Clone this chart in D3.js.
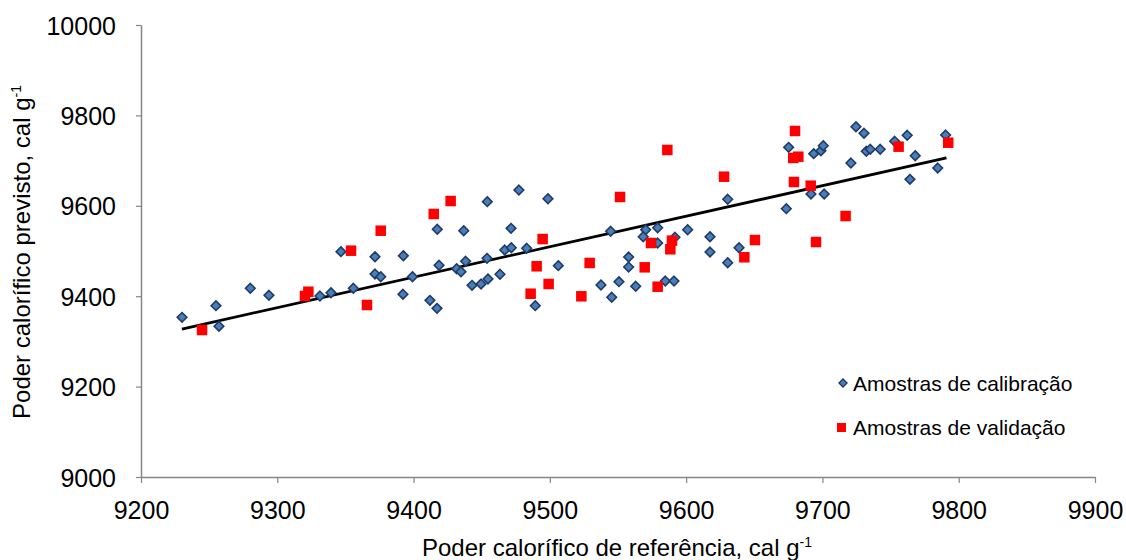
<!DOCTYPE html>
<html>
<head>
<meta charset="utf-8">
<script src="https://cdn.jsdelivr.net/npm/d3@7/dist/d3.min.js"></script>
<style>
  html, body { margin: 0; padding: 0; background: #fff; }
  svg { display: block; }
  text { font-family: "Liberation Sans", Arial, sans-serif; fill: #000; }
</style>
</head>
<body>
<svg id="chart" width="1126" height="560"></svg>
<script>
// ---- Data ----
const calibX = [9230.1,9255.0,9257.2,9280.2,9293.9,9331.3,9339.4,9346.7,9355.8,9371.7,9371.7,9375.9,9392.5,9392.2,9399.2,
  9417.4,9436.8,9454.1,9477.3,9498.6,9471.5,9418.7,9431.6,9434.8,9438.2,9453.9,9466.9,9471.7,9483.0,9463.4,9442.9,9449.5,
  9454.6,9412.0,9417.2,9489.3,9506.2,9537.5,9545.4,9550.7,9557.8,9557.8,9563.0,9544.6,9584.7,9591.1,9570.3,9579.1,9568.5,
  9579.1,9591.8,9601.1,9617.5,9617.5,9638.8,9630.5,9630.5,9675.2,9693.6,9698.9,9700.6,9691.6,9701.3,9673.5,9724.6,9730.5,
  9732.2,9735.1,9742.4,9720.9,9753.0,9762.2,9768.1,9764.2,9784.6,9790.4];
const calibY = [9353.3,9379.0,9333.4,9417.5,9402.0,9400.4,9407.7,9498.5,9417.5,9487.4,9449.1,9443.1,9489.6,9404.2,9443.1,
  9548.0,9544.9,9609.1,9634.9,9615.7,9550.2,9468.4,9460.8,9454.2,9477.2,9483.8,9502.2,9507.3,9506.0,9448.5,9424.1,9427.0,
  9438.1,9390.9,9373.2,9379.0,9467.5,9424.8,9397.6,9432.1,9486.7,9464.6,9421.9,9543.6,9433.6,9433.6,9547.1,9551.5,9531.6,
  9517.7,9530.3,9547.1,9531.6,9497.8,9507.3,9474.1,9614.4,9729.4,9715.3,9721.9,9732.9,9626.1,9626.1,9593.6,9775.0,9760.4,
  9720.6,9725.0,9725.0,9694.7,9742.7,9756.0,9710.8,9658.6,9683.6,9756.6];
const validX = [9244.8,9320.3,9322.8,9354.1,9375.9,9365.8,9414.8,9427.2,9551.5,9586.2,9494.7,9490.3,9499.1,9485.9,9529.2,
  9523.1,9569.6,9579.1,9574.2,9589.6,9588.4,9627.8,9650.5,9642.7,9679.9,9678.6,9682.3,9679.1,9691.4,9717.0,9695.3,9755.9,9792.3];
const validY = [9325.2,9400.4,9409.9,9500.7,9544.9,9380.5,9581.9,9610.6,9619.5,9723.5,9526.5,9466.2,9427.0,9405.5,9473.5,
  9399.8,9463.9,9421.0,9517.7,9522.8,9503.8,9664.4,9524.3,9486.1,9765.5,9705.8,9708.6,9652.7,9644.5,9577.4,9519.9,9730.8,9739.6];
// trend line end points (reference value, predicted value)
const trendX = [9230, 9791];
const trendY = [9327.4, 9705.8];
const xTicks = [9200, 9300, 9400, 9500, 9600, 9700, 9800, 9900];
const yTicks = [9000, 9200, 9400, 9600, 9800, 10000];
const seriesNames = ["Amostras de calibração", "Amostras de validação"];

// ---- Layout ----
const svg = d3.select("#chart");
const x = d3.scaleLinear().domain([9200, 9900]).range([141, 1095]);
const y = d3.scaleLinear().domain([9000, 10000]).range([477, 25]);
const axisColor = "#868686";

const xAxis = svg.append("g").attr("transform", "translate(0,477)")
  .call(d3.axisBottom(x).tickValues(xTicks).tickSize(6).tickSizeOuter(0).tickFormat(d3.format("d")));
const yAxis = svg.append("g").attr("transform", "translate(141,0)")
  .call(d3.axisLeft(y).tickValues(yTicks).tickSize(5).tickSizeOuter(0).tickFormat(d3.format("d")));
[xAxis, yAxis].forEach(g => {
  g.select(".domain").attr("stroke", axisColor).attr("stroke-width", 1.5);
  g.selectAll(".tick line").attr("stroke", axisColor).attr("stroke-width", 1.2);
  g.selectAll(".tick text").style("font-size", "25px").attr("fill", "#000")
   .style("font-family", "'Liberation Sans', Arial, sans-serif");
});
xAxis.selectAll(".tick text").attr("dy", "0").attr("y", 42);
yAxis.selectAll(".tick text").attr("x", -25).attr("dy", "0.36em");

// trend line
svg.append("line")
  .attr("x1", x(trendX[0])).attr("y1", y(trendY[0]))
  .attr("x2", x(trendX[1])).attr("y2", y(trendY[1]))
  .attr("stroke", "#000").attr("stroke-width", 2.8);

// calibration diamonds
const calib = calibX.map((v, i) => [v, calibY[i]]);
const valid = validX.map((v, i) => [v, validY[i]]);
const diamond = "M0,-4.8L4.8,0L0,4.8L-4.8,0Z";
svg.append("g").selectAll("path").data(calib).join("path")
  .attr("d", diamond)
  .attr("transform", d => `translate(${x(d[0])},${y(d[1])})`)
  .attr("fill", "#4A7EBB").attr("stroke", "#1F3B64").attr("stroke-width", 1.6);

// validation squares
const sq = 10.5;
svg.append("g").selectAll("rect").data(valid).join("rect")
  .attr("x", d => x(d[0]) - sq / 2).attr("y", d => y(d[1]) - sq / 2)
  .attr("width", sq).attr("height", sq).attr("fill", "#FF0000");

// legend
const leg = svg.append("g");
leg.append("path").attr("d", "M0,-4L4,0L0,4L-4,0Z").attr("transform", "translate(843,383)")
  .attr("fill", "#4A7EBB").attr("stroke", "#1F3B64").attr("stroke-width", 1.4);
leg.append("text").attr("x", 853).attr("y", 383).attr("dy", "0.36em").style("font-size", "21px").text(seriesNames[0]);
leg.append("rect").attr("x", 837).attr("y", 423).attr("width", 9).attr("height", 9).attr("fill", "#FF0000");
leg.append("text").attr("x", 853).attr("y", 427).attr("dy", "0.36em").style("font-size", "21px").text(seriesNames[1]);

// axis titles
const xt = svg.append("text").attr("x", 617).attr("y", 556).attr("text-anchor", "middle").style("font-size", "24px");
xt.append("tspan").text("Poder calorífico de referência, cal g");
xt.append("tspan").attr("dy", "-9").style("font-size", "14px").text("-1");

const yt = svg.append("text").attr("transform", "translate(30,252) rotate(-90)").attr("text-anchor", "middle").style("font-size", "24px");
yt.append("tspan").text("Poder calorífico previsto, cal g");
yt.append("tspan").attr("dy", "-9").style("font-size", "14px").text("-1");
</script>
</body>
</html>
